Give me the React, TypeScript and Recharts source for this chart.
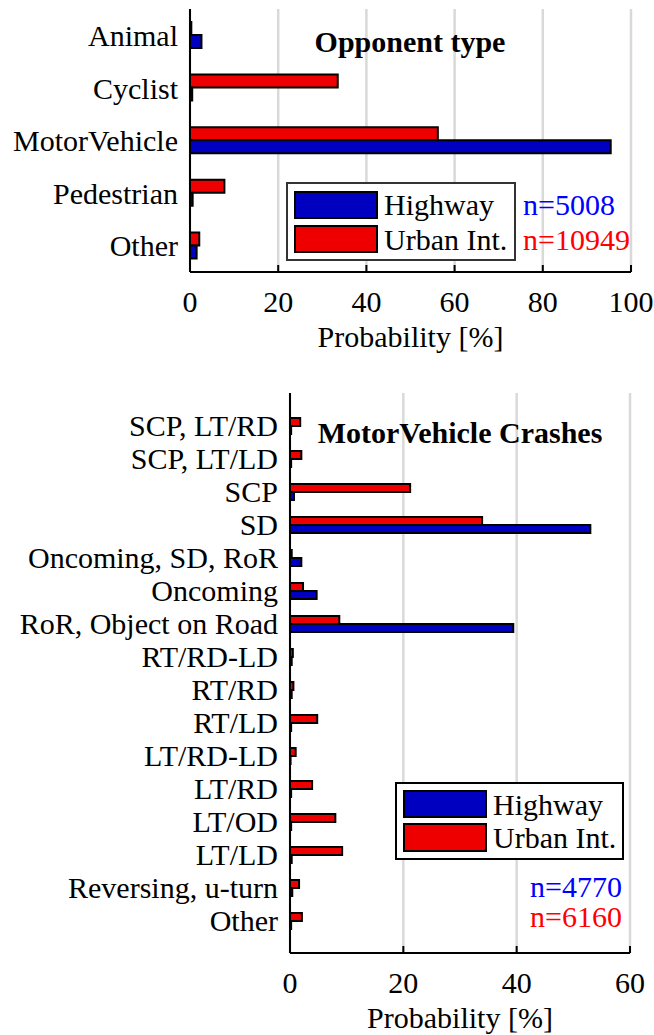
import { BarChart, Bar, XAxis, YAxis, CartesianGrid, Label } from 'recharts';

const FONT = "'Liberation Serif', 'Times New Roman', serif";
const BLUE = '#0000c0';
const RED = '#ee0000';
const FS = 30;

// Opponent type (top panel)
const opponentTypes = ['Animal', 'Cyclist', 'MotorVehicle', 'Pedestrian', 'Other'];
const opponentUrban = [0.3, 33.5, 56.2, 7.8, 2.1];
const opponentHighway = [2.6, 0.5, 95.4, 0.6, 1.5];
const opponentTicks = [0, 20, 40, 60, 80, 100];

// MotorVehicle crashes (bottom panel)
const crashTypes = [
  'SCP, LT/RD',
  'SCP, LT/LD',
  'SCP',
  'SD',
  'Oncoming, SD, RoR',
  'Oncoming',
  'RoR, Object on Road',
  'RT/RD-LD',
  'RT/RD',
  'RT/LD',
  'LT/RD-LD',
  'LT/RD',
  'LT/OD',
  'LT/LD',
  'Reversing, u-turn',
  'Other',
];
const crashUrban = [1.8, 2.0, 21.2, 33.9, 0.3, 2.3, 8.7, 0.5, 0.6, 4.8, 1.0, 3.9, 8.0, 9.2, 1.6, 2.1];
const crashHighway = [0.2, 0.2, 0.7, 53.0, 2.0, 4.7, 39.4, 0.3, 0.3, 0.2, 0.1, 0.2, 0.2, 0.3, 0.4, 0.2];
const crashTicks = [0, 20, 40, 60];

const opponentData = opponentTypes.map((name, i) => ({
  name,
  urban: opponentUrban[i],
  highway: opponentHighway[i],
}));

const crashData = crashTypes.map((name, i) => ({
  name,
  urban: crashUrban[i],
  highway: crashHighway[i],
}));

// x tick: short inward tick mark + label below the axis
const XTick = (props: any) => {
  const { x, y, payload } = props;
  return (
    <g>
      <line x1={x} x2={x} y1={y} y2={y - 7} stroke="#000" strokeWidth={2} />
      <text x={x} y={y + 40} textAnchor="middle" fontSize={FS} fontFamily={FONT} fill="#000">
        {payload.value}
      </text>
    </g>
  );
};

const axisLine = { stroke: '#000', strokeWidth: 2 };
const tickStyle = { fontSize: FS, fontFamily: FONT, fill: '#000' };

export default function App() {
  return (
    <div style={{ position: 'absolute', left: 0, top: 0, width: 654, height: 1035, background: '#fff', fontFamily: FONT }}>
      <div style={{ position: 'absolute', left: 0, top: 0 }}>
        <BarChart
          width={654}
          height={360}
          data={opponentData}
          layout="vertical"
          margin={{ top: 9, right: 23, bottom: 13, left: 0 }}
          barGap={0}
          barSize={13}
        >
          <CartesianGrid horizontal={false} stroke="#d9d9d9" strokeWidth={2.5} />
          <XAxis
            type="number"
            domain={[0, 100]}
            ticks={opponentTicks}
            height={75}
            axisLine={axisLine}
            tickLine={false}
            tickSize={0}
            tickMargin={0}
            tick={<XTick />}
          >
            <Label value="Probability [%]" position="insideBottom" offset={0} style={tickStyle} />
          </XAxis>
          <YAxis
            type="category"
            dataKey="name"
            width={190}
            axisLine={axisLine}
            tickLine={false}
            tickSize={0}
            tickMargin={12}
            tick={tickStyle}
            interval={0}
          />
          <Bar dataKey="urban" fill={RED} stroke="#000" strokeWidth={2} isAnimationActive={false} />
          <Bar dataKey="highway" fill={BLUE} stroke="#000" strokeWidth={2} isAnimationActive={false} />
        </BarChart>
      </div>

      <div style={{ position: 'absolute', left: 0, top: 380 }}>
        <BarChart
          width={654}
          height={655}
          data={crashData}
          layout="vertical"
          margin={{ top: 13, right: 24, bottom: 7, left: 0 }}
          barGap={0}
          barSize={8}
        >
          <CartesianGrid horizontal={false} stroke="#d9d9d9" strokeWidth={2.5} />
          <XAxis
            type="number"
            domain={[0, 60]}
            ticks={crashTicks}
            height={75}
            axisLine={axisLine}
            tickLine={false}
            tickSize={0}
            tickMargin={0}
            tick={<XTick />}
          >
            <Label value="Probability [%]" position="insideBottom" offset={0} style={tickStyle} />
          </XAxis>
          <YAxis
            type="category"
            dataKey="name"
            width={290}
            axisLine={axisLine}
            tickLine={false}
            tickSize={0}
            tickMargin={12}
            tick={tickStyle}
            interval={0}
            padding={{ top: 16, bottom: 16 }}
          />
          <Bar dataKey="urban" fill={RED} stroke="#000" strokeWidth={2} isAnimationActive={false} />
          <Bar dataKey="highway" fill={BLUE} stroke="#000" strokeWidth={2} isAnimationActive={false} />
        </BarChart>
      </div>

      {/* titles, legends and sample sizes */}
      <svg width={654} height={1035} style={{ position: 'absolute', left: 0, top: 0, pointerEvents: 'none' }}>
        <g fontFamily={FONT} fontSize={FS}>
          <text x={410} y={52} textAnchor="middle" fontWeight="bold">Opponent type</text>
          <rect x={287} y={183} width={228} height={77} fill="#fff" stroke="#333" strokeWidth={2} />
          <rect x={295} y={192} width={82} height={26} fill={BLUE} stroke="#000" strokeWidth={2} />
          <rect x={295} y={226} width={82} height={26} fill={RED} stroke="#000" strokeWidth={2} />
          <text x={384} y={215}>Highway</text>
          <text x={384} y={250}>Urban Int.</text>
          <text x={523} y={215} fill="#0000ff">n=5008</text>
          <text x={523} y={250} fill="#ff0000">n=10949</text>

          <text x={460} y={443} textAnchor="middle" fontWeight="bold">MotorVehicle Crashes</text>
          <rect x={396} y={783} width={227} height={76} fill="#fff" stroke="#000" strokeWidth={2} />
          <rect x={404} y={791} width={82} height={26} fill={BLUE} stroke="#000" strokeWidth={2} />
          <rect x={404} y={824} width={82} height={27} fill={RED} stroke="#000" strokeWidth={2} />
          <text x={493} y={815}>Highway</text>
          <text x={493} y={848}>Urban Int.</text>
          <text x={622} y={897} textAnchor="end" fill="#0000ff">n=4770</text>
          <text x={622} y={927} textAnchor="end" fill="#ff0000">n=6160</text>
        </g>
      </svg>
    </div>
  );
}
